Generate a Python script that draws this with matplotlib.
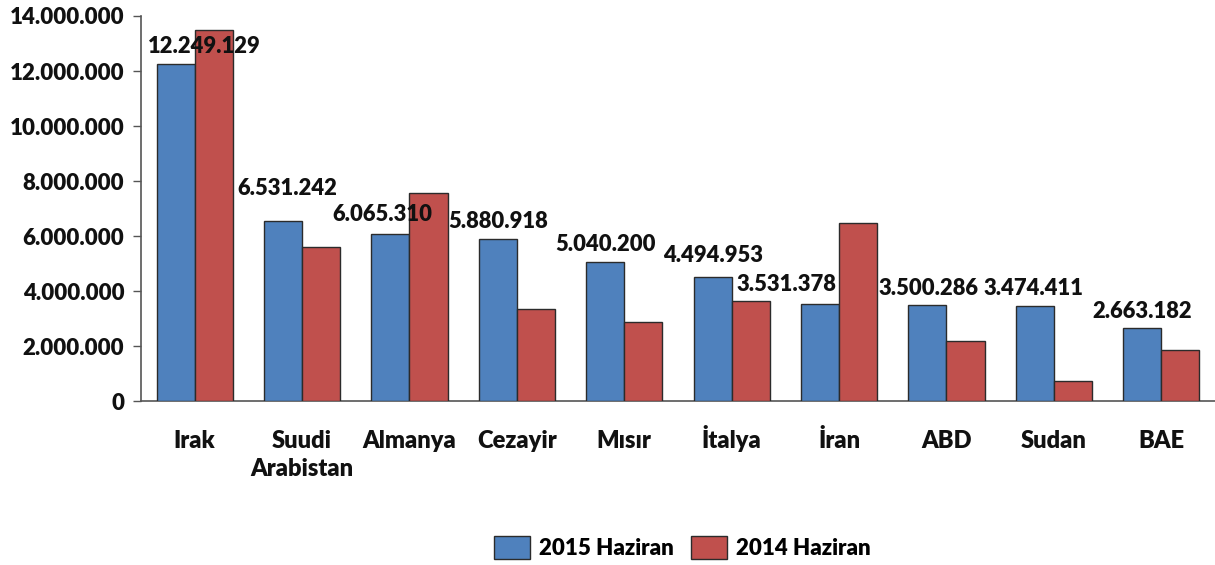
import matplotlib
matplotlib.use("Agg")
import matplotlib.pyplot as plt
import matplotlib.transforms as mtrans
import numpy as np
from matplotlib.ticker import FuncFormatter

categories = ["Irak", "Suudi\nArabistan", "Almanya", "Cezayir", "Mısır",
              "İtalya", "İran", "ABD", "Sudan", "BAE"]
values_2015 = [12249129, 6531242, 6065310, 5880918, 5040200,
               4494953, 3531378, 3500286, 3474411, 2663182]
values_2014 = [13490000, 5600000, 7560000, 3350000, 2870000,
               3640000, 6480000, 2180000, 730000, 1850000]
series_names = ["2015 Haziran", "2014 Haziran"]
yticks = [0, 2000000, 4000000, 6000000, 8000000, 10000000, 12000000, 14000000]

# label offsets (points) relative to the top-centre of the 2015 bar
label_dx = [21, 3, -6, 0, 0, 0, -24, 1, -1, 0]
label_dy = [13, 24, 14, 13, 13, 16, 14, 12, 12, 12]

FONT = "Lato"
WEIGHT = 800
INK = "#111111"

def fmt(v, pos=None):
    return f"{int(v):,}".replace(",", ".")

fig = plt.figure(figsize=(12.15, 5.65), dpi=100)
ax = fig.add_axes([0.116, 0.290, 0.884, 0.6817])

x = np.arange(len(categories))
w = 0.355
b1 = ax.bar(x - w/2, values_2015, w, color="#4F81BD", edgecolor="#2b2b2b",
            linewidth=1.0, label=series_names[0], zorder=3)
b2 = ax.bar(x + w/2, values_2014, w, color="#C0504D", edgecolor="#2b2b2b",
            linewidth=1.0, label=series_names[1], zorder=3)

for i, v in enumerate(values_2015):
    ax.annotate(fmt(v), xy=(x[i] - w/2, v), xytext=(label_dx[i], label_dy[i]),
                textcoords="offset points", ha="center", va="center",
                fontsize=15.8, fontweight=WEIGHT, family=FONT, color=INK,
                zorder=5)

ax.set_xlim(-0.5, len(categories) - 0.5)
ax.set_ylim(0, 14000000)
ax.set_yticks(yticks)
ax.yaxis.set_major_formatter(FuncFormatter(fmt))
ax.set_xticks(x)
ax.set_xticklabels([])
ax.tick_params(axis="x", length=0)
ax.tick_params(axis="y", length=6, width=1, color="#555555", pad=6,
               labelsize=16)
for lab in ax.get_yticklabels():
    lab.set_fontweight(WEIGHT)
    lab.set_family(FONT)
    lab.set_color(INK)

# category labels: each line on its own baseline
trans = mtrans.blended_transform_factory(ax.transData, ax.transAxes)
line_step = 20.2  # points between baselines
for i, cat in enumerate(categories):
    for k, line in enumerate(cat.split("\n")):
        off = mtrans.offset_copy(trans, fig=fig, x=0, y=-k * line_step,
                                 units="points")
        ax.text(x[i], -0.122, line, transform=off, ha="center",
                va="baseline", fontsize=17, fontweight=WEIGHT, family=FONT,
                color=INK)

for s in ["top", "right"]:
    ax.spines[s].set_visible(False)
ax.spines["left"].set_color("#555555")
ax.spines["bottom"].set_color("#555555")
ax.spines["left"].set_linewidth(1.2)
ax.spines["bottom"].set_linewidth(1.2)

leg = fig.legend(handles=[b1, b2], labels=series_names, loc="center",
                 bbox_to_anchor=(0.5617, 0.031), ncol=2, frameon=False,
                 prop={"family": FONT, "weight": WEIGHT, "size": 16},
                 handlelength=1.6, handleheight=1.2, columnspacing=0.8,
                 handletextpad=0.4)

fig.savefig("out.png", dpi=100)
